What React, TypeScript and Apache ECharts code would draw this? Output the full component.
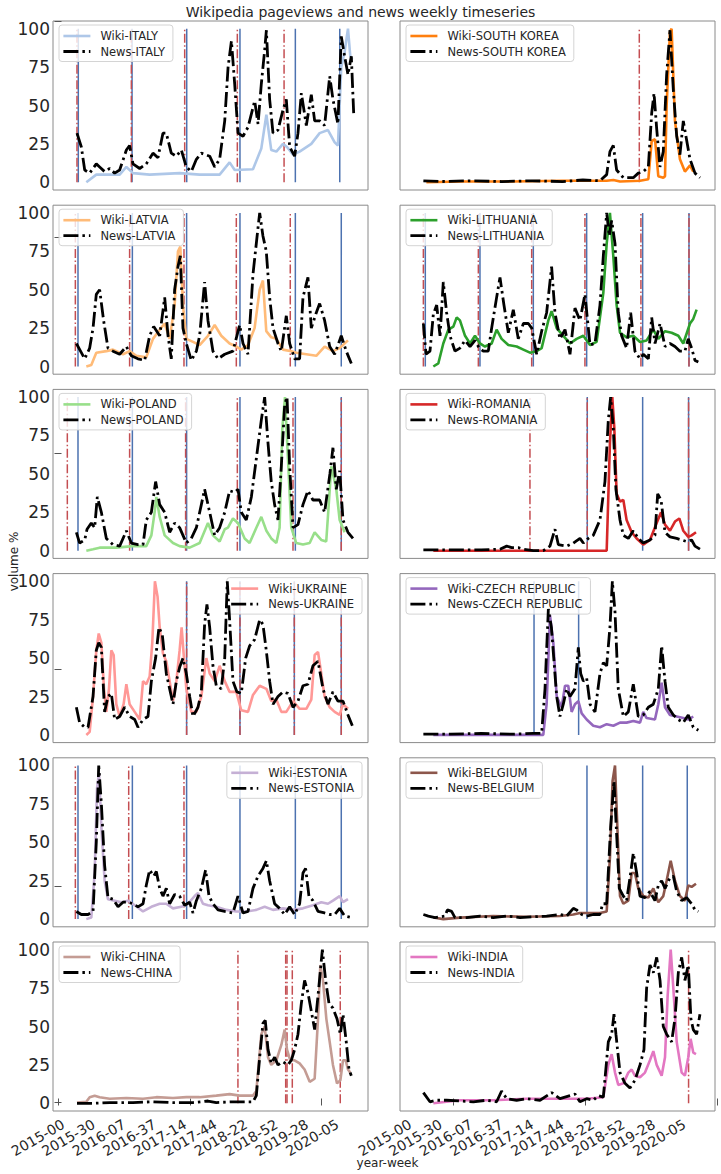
import React, { useEffect, useRef } from "react";
import * as echarts from "echarts";

// ---------- tick labels ----------
const weekTicks = [0, 30, 60, 90, 120, 150, 180, 210, 240, 270];
const weekLabels = ["2015-00", "2015-30", "2016-07", "2016-37", "2017-14", "2017-44", "2018-22", "2018-52", "2019-28", "2020-05"];
const volumeTicks = [0, 25, 50, 75, 100];

// ---------- panels ----------
const countries = ["ITALY", "SOUTH KOREA", "LATVIA", "LITHUANIA", "POLAND", "ROMANIA", "UKRAINE", "CZECH REPUBLIC", "ESTONIA", "BELGIUM", "CHINA", "INDIA"];
const wikiColors = ["#aec7e8", "#ff7f0e", "#ffbb78", "#2ca02c", "#98df8a", "#d62728", "#ff9896", "#9467bd", "#c5b0d5", "#8c564b", "#c49c94", "#e377c2"];
const legendRight = [false, false, false, false, false, false, true, false, true, false, false, false];

// ---------- series (week, volume %) ----------
const wikiItaly = [22.8,0, 32.6,5, 55.6,5, 62.2,10, 68.7,6, 85.1,5, 114.6,6, 134.3,5, 154,5, 163.8,13, 168.8,8, 186.8,8.5, 195,22, 200,44, 204.8,21, 209.8,20, 216.3,25, 220.3,23, 226.2,18, 232.7,20, 244.2,25, 252.4,32, 260.6,34, 267.2,26, 270.4,24, 273.7,75, 277,85, 280.3,100, 282.6,82, 284.5,80];
const newsItaly = [13.6,32, 17.9,23, 21.2,8, 26.1,6, 32.6,12, 35.9,10, 40.8,7, 45.8,9, 50.7,6, 55.6,8, 62.2,21, 65.4,24, 68.7,12, 75.3,9, 81.8,12, 88.4,19, 93.3,16, 98.2,32, 101.5,32, 106.4,19, 111.4,17, 116.3,21, 121.2,10, 126.1,7, 131.1,15, 136,19, 144.2,17, 149.1,10, 154,15, 159,40, 162.3,75, 165.6,92, 168.8,64, 172.1,32, 177,30, 182,36, 188.5,53, 191.8,38, 195,64, 198.3,86, 200,99, 203.2,54, 206.5,32, 211.4,34, 216.3,47, 219.6,54, 222.9,23, 227.8,17, 231.1,32, 234.4,58, 239.3,37, 244.2,57, 247.5,40, 252.4,40, 257.3,37, 262.3,69, 265.5,54, 270.4,38, 273.7,95, 277,82, 280.3,70, 283.6,82, 285.9,45];

const wikiSouthKorea = [16,0, 50,0.5, 100,0.5, 150,1, 193.4,1, 200,1.5, 206.5,0.5, 226.2,1, 234.4,2, 237.7,27, 241,28, 244.2,4, 249.1,3, 250.8,4, 252.4,50, 255.7,98, 257.3,100, 260.6,40, 265.5,15, 270.4,7, 275.4,11, 278.6,7];
const newsSouthKorea = [13,1, 30,0.5, 60,1, 90,0.5, 120,1, 150,0.5, 170,1.5, 186.8,1, 193.4,5, 196.6,20, 199.9,24, 203.2,8, 209.8,3, 219.6,3, 224.5,6, 229.4,7, 234.4,10, 237.7,45, 240,58, 242.6,35, 245.8,10, 249.1,20, 252.4,70, 255.7,99, 259,60, 262.3,30, 265.5,18, 268.8,40, 271.4,30, 275.4,15, 280.3,6, 285.2,3];

const wikiLatvia = [22.8,0, 27.7,1, 32.6,9, 42.5,10, 49,11, 58.9,8, 65.4,10, 72,7, 81.8,6, 88.4,18, 95,24, 99.9,28, 104.8,18, 109.7,40, 113,75, 115.3,78, 117.9,40, 121.2,18, 127.8,16, 134.3,14, 142.5,20, 149.1,27, 155.6,20, 163.8,15, 170.4,13, 175.3,11, 181.9,14, 188.4,25, 193.4,50, 196.6,56, 199.9,23, 204.8,19, 209.8,18, 216.3,11, 224.5,10, 229.4,9, 239.3,8, 249.1,7, 257.3,13, 265.5,10, 272.1,12, 280.3,17];
const newsLatvia = [13,15, 17.9,9, 21.2,5, 26.1,12, 29.4,25, 32.6,47, 35.9,50, 39.8,30, 44.1,12, 49,10, 55.6,8, 62.2,13, 67.1,7, 73.6,5, 80.2,4, 85.1,20, 89.1,26, 95,20, 99.9,45, 103.2,20, 106.4,5, 109.7,50, 113,65, 115.3,72, 117.9,25, 121.2,15, 126.1,4, 131.1,10, 134.3,20, 139.2,55, 142.5,30, 147.4,10, 152.4,5, 159,8, 167.1,10, 173.7,27, 177,15, 181.9,8, 186.8,60, 191.7,90, 193.4,100, 196.6,85, 199.9,75, 203.2,45, 206.5,25, 211.4,15, 214.7,10, 219.6,33, 222.9,15, 227.8,5, 232.7,5, 236,45, 240.9,58, 244.2,25, 249.1,35, 252.4,41, 257.3,30, 262.3,13, 267.2,8, 273.7,20, 278.6,10, 283.6,2];

const wikiLithuania = [22.8,0, 27.7,2, 32.6,15, 37.6,24, 42.5,26, 45.8,32, 49,30, 54,20, 58.9,15, 63.8,20, 68.7,15, 73.6,13, 80.2,15, 85.1,24, 90,18, 96.6,14, 104.8,13, 111.4,11, 117.9,9, 124.5,10, 129.4,12, 136,30, 139.2,36, 144.2,25, 150.7,20, 157.3,15, 163.8,18, 170.4,20, 177,14, 183.5,16, 190.1,48, 193.4,80, 196.6,100, 199.9,72, 203.2,40, 206.5,22, 213,19, 219.6,20, 226.2,16, 232.7,17, 239.3,24, 244.2,18, 250.8,23, 257.3,22, 263.9,20, 268.8,15, 275.4,28, 278.6,31, 281.9,37];
const newsLithuania = [13,28, 15.6,8, 19.5,10, 22.8,34, 26.1,40, 29.4,20, 32.6,55, 35.9,35, 39.2,20, 44.1,10, 49,12, 54,17, 58.9,13, 63.8,17, 68,12, 72,10, 76.9,10, 80.2,25, 85.1,45, 88.4,58, 92.3,40, 96.6,22, 101.5,37, 106.4,18, 111.4,28, 116.3,28, 119.6,25, 124.5,8, 129.4,23, 134.3,35, 139.2,65, 142.5,35, 147.4,18, 152.4,24, 157.3,8, 162.2,38, 167.1,30, 172,47, 177,14, 181.9,15, 186.8,40, 190.1,72, 193.4,100, 196,85, 198.3,95, 201.6,80, 204.8,35, 208.1,20, 213,12, 217,35, 221.2,10, 226.2,5, 229.4,8, 234.4,5, 237.7,32, 241,15, 245.9,28, 250.8,13, 255.7,15, 260.6,13, 265.5,10, 270.4,10, 273.7,18, 277,12, 280.3,4, 283.6,3];

const wikiPoland = [22.8,0, 29.4,1, 35.9,2, 52.3,2, 68.7,3, 81.8,3, 86.8,10, 90,25, 91.7,35, 95,22, 99.9,10, 108.1,5, 114.6,3, 124.5,2, 134.3,5, 142.5,18, 147.4,10, 154,6, 159,14, 162.2,15, 167.1,21, 172,18, 178.6,8, 183.5,5, 190.1,15, 195,22, 200,13, 204.8,8, 209.8,5, 213,15, 215.7,80, 218.3,100, 221.6,55, 224.5,15, 229.4,5, 236,4, 242.6,5, 247.5,12, 254,7, 258.9,6, 263.9,55, 268.8,40, 272.1,20, 277,12];
const newsPoland = [13,12, 16.2,5, 21.2,7, 23.5,14, 27.7,18, 31,15, 33.6,35, 37.6,25, 42.5,8, 49,4, 55.6,3, 62.2,13, 67.1,5, 73.6,4, 78.6,4, 81.8,20, 86.8,25, 91,45, 95,30, 99.9,25, 104.8,12, 109.7,18, 114.6,15, 121.2,5, 126.1,8, 131.1,15, 136,30, 139.2,40, 144.2,25, 149.1,10, 154,15, 159,25, 163.8,39, 168.8,38, 172.1,40, 175.3,25, 180.2,20, 185.2,35, 190.1,60, 195,85, 198.3,100, 201.6,70, 204.8,45, 208.1,30, 211.4,20, 214.7,55, 218,95, 220.3,100, 222.9,55, 226.2,15, 231.1,17, 236,30, 240.9,39, 245.8,33, 252.4,33, 257.3,25, 262.5,50, 265.5,67, 268.8,40, 272.1,52, 275.4,20, 280.3,12, 285.2,8];

const wikiRomania = [22.8,0, 60,0, 100,0, 140,0, 170,0, 193.4,0, 196.6,70, 198.9,100, 200.9,80, 203.2,37, 206.5,32, 209.8,33, 213,20, 218,12, 222.9,8, 229.4,4, 236,7, 242.6,18, 246.9,25, 250.8,17, 255.7,13, 260.6,19, 264.9,21, 268.8,13, 273.7,9, 277,10, 281.3,12];
const newsRomania = [13,0.5, 40,0.5, 70,0.5, 88.4,1, 95,3, 99.9,2, 106.4,2, 111.4,1, 121.2,0, 131,0, 137.6,3, 142.5,14, 145.8,4, 154,3, 160.6,5, 167.1,8, 170.4,5, 175.3,8, 180.2,10, 186.8,20, 191.7,45, 195,85, 197.3,100, 199.9,80, 202.5,40, 206.5,20, 209.8,10, 214.7,8, 219.6,13, 224.5,8, 229.4,5, 236,7, 240.9,10, 243.6,37, 246.9,33, 250.8,12, 255.7,9, 262.3,8, 267.2,7, 272.1,6, 277,7, 280.3,3, 285.2,1];

const wikiUkraine = [22.8,0, 26.1,2, 29.4,25, 32.6,55, 35,66, 37.6,60, 40.2,30, 42.5,15, 45.1,30, 47.4,55, 49.7,52, 52.3,20, 55.6,12, 59.5,20, 62.2,33, 65.4,20, 70.4,15, 75.3,10, 78.6,35, 81.8,33, 85.1,38, 87.7,60, 90.3,100, 92.9,90, 95,70, 98.2,53, 101.5,48, 104.8,35, 108.1,22, 111.4,35, 114.6,55, 116.6,70, 118.9,50, 121.2,30, 126.1,15, 131.1,15, 136,25, 140.9,50, 144.2,40, 149.1,35, 154,45, 159,35, 163.8,28, 170.4,28, 175.3,16, 181.9,15, 186.8,26, 193.4,32, 200,30, 204.8,22, 209.8,23, 214.7,15, 219.6,15, 226.2,22, 232.7,17, 239.3,17, 244.2,23, 247.5,52, 250.8,54, 254,40, 257.3,25, 262.3,18, 267.2,15, 272.1,13, 275.4,20, 280.3,17];
const newsUkraine = [13,18, 16.2,8, 21.2,5, 24.5,5, 29.4,25, 32.6,55, 35,60, 37.6,57, 40.8,15, 44.1,25, 47.4,27, 50.7,10, 55.6,12, 60.5,18, 65.4,12, 70.4,10, 73.6,5, 78.6,10, 83.5,12, 86.8,35, 91,50, 94.3,70, 97.6,65, 101.5,40, 104.8,30, 108.1,20, 111.4,35, 114.6,44, 117.9,50, 121.2,40, 124.5,25, 127.8,12, 132.7,18, 136,28, 139.2,72, 141.5,85, 144.2,70, 147.4,45, 150.7,32, 155.6,30, 159,50, 161.5,100, 163.8,75, 167.1,35, 171,28, 175.3,27, 179.6,50, 183.5,58, 188.4,62, 193.4,75, 196.6,72, 199.9,55, 203.2,35, 206.5,20, 211.4,25, 216.3,28, 221.2,27, 226.2,18, 231.1,22, 236,32, 240.9,33, 245.8,45, 250.8,48, 255.7,30, 260.6,20, 265.5,28, 270.4,22, 275.4,22, 280.3,13, 284.6,6];

const wikiCzech = [22.8,0, 60,0, 100,0, 131,0, 134.3,20, 137.6,78, 140.9,60, 144.2,25, 149.1,18, 152.4,32, 155.6,32, 158.9,15, 162.2,20, 165.5,22, 168.8,14, 173.7,10, 180.2,6, 186.8,5, 193.4,7, 200,6, 206.5,8, 213,8, 219.6,9, 226.2,8, 229.4,15, 232.7,11, 240.9,10, 244.2,20, 247.5,34, 250.8,18, 255.7,13, 262.3,12, 268.8,11, 273.7,10, 278.6,12];
const newsCzech = [13,0.5, 40,0.5, 70,1, 100,0.5, 121.2,1, 129.4,1, 132.7,30, 136,82, 139,70, 144.2,25, 147.4,12, 150.7,20, 154,30, 157.3,25, 162.2,30, 165.5,57, 167.8,40, 170.4,35, 173.7,37, 177,20, 181.9,15, 186.8,40, 190.1,47, 193.4,45, 196.6,70, 199,100, 201.6,80, 204.8,30, 209.8,12, 214.7,15, 219.6,33, 224.5,12, 229.4,13, 234.4,18, 239.3,20, 244.2,30, 247.5,58, 250.8,35, 254,18, 259,13, 263.9,10, 268.8,8, 273.7,13, 278.6,5, 283.6,3];

const wikiEstonia = [22.8,0, 27.7,1, 31,30, 33.3,85, 35.3,95, 37.6,60, 40.8,25, 44.1,13, 50.7,12, 57.2,11, 63.8,12, 70.4,9, 78.6,5, 86.8,8, 95,10, 101.5,10, 108.1,7, 116.3,8, 122.8,10, 129.4,15, 132.7,17, 137.6,10, 142.5,9, 150.7,8, 160.6,6, 170.4,5, 180.2,5, 190.1,6, 198.3,8, 206.5,6, 216.3,7, 226.2,6, 236,7, 245.8,9, 254,11, 260.6,10, 265.5,12, 272.1,15, 275.4,11, 280.3,13];
const newsEstonia = [13,5, 17.9,3, 24.5,3, 29.4,5, 32.6,50, 35,100, 37.6,75, 40.8,35, 44.1,14, 49,13, 54,8, 58.9,11, 63.8,11, 68.7,10, 73.6,8, 78.6,10, 81.8,22, 85.1,32, 89.1,28, 91.7,31, 95,20, 98.2,15, 101.5,20, 104.8,10, 109.7,16, 114.6,15, 119.6,9, 124.5,11, 127.8,4, 131.1,12, 136,20, 140.2,32, 143.5,15, 147.4,10, 152.4,6, 159,5, 167.1,4, 172,15, 177,4, 181.9,5, 186.8,20, 191.7,28, 196.6,33, 200,38, 203.2,25, 208.1,10, 213,7, 218,3, 222.9,8, 227.8,3, 232.7,10, 236,30, 238.6,33, 241.9,15, 245.8,12, 250.8,5, 257.3,4, 262.3,3, 267.2,3, 272.1,7, 277,2, 283.6,1];

const wikiBelgium = [22.8,1, 32.6,0, 49,1, 81.8,2, 114.6,1.5, 147.4,2, 160.6,3, 167.1,4, 173.7,4, 186.8,4, 193.4,5, 196.6,40, 199.2,90, 201.6,100, 203.9,60, 206.5,15, 209.8,10, 214.7,12, 218,30, 221.2,30, 224.5,20, 229.4,15, 234.4,14, 239.3,20, 244.2,11, 249.1,15, 252.4,25, 256.4,38, 260.6,25, 265.5,15, 270.4,12, 273.7,22, 277,21, 281.3,23];
const newsBelgium = [13,3, 17.9,2, 24.5,1, 34.3,2, 36.6,6, 40.8,5, 44.1,1, 55.6,1, 68.7,2, 81.8,1, 95,2, 108.1,1, 121.2,1.5, 134.3,2, 147.4,3, 154,2, 160.6,7, 163.8,6, 168.8,3, 173.7,2, 180.2,3, 186.8,3, 189.4,10, 193.4,10, 197.3,60, 200.6,90, 203.2,55, 205.8,20, 209.8,15, 213,12, 217,30, 219.6,43, 222.9,30, 226.2,15, 231.1,14, 236,18, 240.9,12, 244.2,22, 247.5,25, 250.8,20, 255.7,27, 259,28, 262.3,18, 267.2,12, 272.1,14, 277,10, 280.3,6, 283.6,5];

const wikiChina = [13.6,0.5, 22.8,1, 26.1,4, 31,5, 35.9,4, 45.8,3, 62.2,3.5, 78.6,3, 91.7,4, 108.1,3.5, 121.2,4, 134.3,4, 150.7,5, 163.8,6, 173.7,5, 186.8,5, 190.1,8, 195,45, 198.3,50, 201.6,30, 204.8,25, 209.8,28, 214.7,38, 218,48, 220.3,35, 223.5,28, 227.8,28, 232.7,26, 237.6,22, 242.6,14, 247.5,16, 250.8,55, 253.1,90, 255.7,80, 259,55, 262.3,40, 265.5,25, 269.5,13, 272.8,15, 275.4,28, 278,28, 280.3,22, 282.6,20];
const newsChina = [13.6,0, 29.4,0, 45.8,0.5, 68.7,0.5, 88.4,1, 108.1,0.5, 127.8,0.5, 142.5,1.5, 150.7,0.5, 167.1,1, 186.8,1, 190.1,5, 193.4,30, 196.6,52, 198.9,54, 201.6,35, 204.8,26, 208.1,30, 211.4,25, 216.3,27, 221.2,25, 224.5,28, 227.8,35, 231.1,45, 234.4,65, 237.6,80, 240.9,72, 244.2,60, 247.5,48, 250.8,70, 255.1,100, 258.3,80, 261.6,65, 265.5,62, 269.5,55, 272.8,45, 275.4,58, 278.6,40, 281.3,22, 283.6,18];

const wikiIndia = [22.8,0, 35.9,1, 49,2, 81.8,2, 114.6,3, 147.4,3, 173.7,3, 190.1,4, 195,25, 198.3,32, 201.6,20, 204.8,12, 209.8,13, 214.7,20, 218,22, 221.2,18, 226.2,17, 231.1,20, 236,28, 239.3,34, 242.6,25, 247.5,18, 250.8,30, 253.4,70, 256.4,100, 259,75, 262.3,40, 267.2,20, 270.4,18, 273.7,30, 276,42, 278.6,33, 281.3,32];
const newsIndia = [13,7, 19.5,1, 26.1,2, 35.9,2, 49,1.5, 62.2,1, 75.3,2, 85.1,1, 90,8, 95,3, 104.8,2, 114.6,3, 127.8,2, 139.2,7, 147.4,3, 157.3,5, 162.2,6, 167.1,1, 173.7,3, 180.2,2, 185.2,5, 190.1,4, 195,40, 198.3,45, 200.6,58, 202.5,45, 206.5,20, 211.4,13, 216.3,10, 221.2,15, 226.2,25, 230.1,35, 232.7,75, 236,90, 239.3,85, 242.6,95, 245.9,80, 249.1,50, 252.4,45, 257.3,40, 260.6,55, 263.9,85, 267.2,95, 270.4,80, 273.7,90, 276.3,55, 278.6,48, 281.9,45, 285.2,58];

// ---------- event weeks (vertical lines) ----------
const redItaly = [13.6, 67.1, 119.6, 171.4, 217.4];
const blueItaly = [14.9, 67.8, 121.6, 174, 228.5, 272.2];
const redSouthKorea = [225.5];
const blueSouthKorea: number[] = [];
const redLatvia = [12, 65.4, 118.9, 170.4, 223.5];
const blueLatvia = [14.6, 68.1, 121.5, 174, 228.5, 273.7];
const redLithuania = [13, 67.1, 119.6, 172, 227.1, 274.4];
const blueLithuania = [14.9, 68.7, 121.2, 173.7, 228.8, 274.4];
const redPoland = [4.1, 65.4, 120.5, 171.4, 226.2, 273.7];
const bluePoland = [14.6, 68.1, 121.5, 174, 228.5, 273.7];
const redRomania = [117.9, 174.3, 274];
const blueRomania = [174.3, 228.8, 274];
const redUkraine = [121.5, 174, 227.5, 273.7];
const blueUkraine = [121.5, 174, 227.5, 273.7];
const redCzech: number[] = [];
const blueCzech = [121.9, 165.8];
const redEstonia = [12, 64.5, 118.9];
const blueEstonia = [14.6, 68.1, 121.5, 174, 228.5, 273.7];
const redBelgium: number[] = [];
const blueBelgium = [174, 228.8, 272.7];
const redChina = [172, 219, 220.3, 225.5, 272.7];
const blueChina: number[] = [];
const redIndia = [274];
const blueIndia: number[] = [];

const wikiSeries = [wikiItaly, wikiSouthKorea, wikiLatvia, wikiLithuania, wikiPoland, wikiRomania, wikiUkraine, wikiCzech, wikiEstonia, wikiBelgium, wikiChina, wikiIndia];
const newsSeries = [newsItaly, newsSouthKorea, newsLatvia, newsLithuania, newsPoland, newsRomania, newsUkraine, newsCzech, newsEstonia, newsBelgium, newsChina, newsIndia];
const redLines = [redItaly, redSouthKorea, redLatvia, redLithuania, redPoland, redRomania, redUkraine, redCzech, redEstonia, redBelgium, redChina, redIndia];
const blueLines = [blueItaly, blueSouthKorea, blueLatvia, blueLithuania, bluePoland, blueRomania, blueUkraine, blueCzech, blueEstonia, blueBelgium, blueChina, blueIndia];

// ---------- styling ----------
const FONT = "DejaVu Sans";
const TEXT = "#262626";
const BLUE = "#4c72b0";
const RED = "#c44e52";
const NEWS_DASH = [15, 4, 2.5, 4];
const W = 721;
const H = 1174;
const COL_LEFT = [53, 400];
const GRID_W = 315;
const GRID_H = 169;
const ROW0 = 21;
const ROW_STEP = 184.2;

function pairs(flat: number[]): number[][] {
  const out: number[][] = [];
  for (let i = 0; i + 1 < flat.length; i += 2) out.push([flat[i], flat[i + 1]]);
  return out;
}

function buildOption() {
  const grid: any[] = [];
  const xAxis: any[] = [];
  const yAxis: any[] = [];
  const series: any[] = [];
  const legend: any[] = [];

  countries.forEach((name, i) => {
    const row = Math.floor(i / 2);
    const col = i % 2;
    const left = COL_LEFT[col];
    const top = ROW0 + row * ROW_STEP;
    grid.push({ left, top, width: GRID_W, height: GRID_H, show: true, borderColor: "#8a8a8a", borderWidth: 1, backgroundColor: "transparent" });
    const bottomRow = row === 5;
    xAxis.push({
      type: "value", gridIndex: i, min: -10, max: 300,
      axisLine: { show: false }, axisTick: { show: false }, splitLine: { show: false },
      axisLabel: {
        show: bottomRow, customValues: weekTicks, rotate: 30, margin: 12,
        fontSize: 14, color: TEXT, fontFamily: FONT,
        formatter: (v: number) => { const k = weekTicks.indexOf(Math.round(v)); return k >= 0 ? weekLabels[k] : ""; },
      },
    });
    yAxis.push({
      type: "value", gridIndex: i, min: -5, max: 105,
      axisLine: { show: false }, axisTick: { show: false }, splitLine: { show: false },
      axisLabel: { show: col === 0, customValues: volumeTicks, margin: 3, fontSize: 17, color: TEXT, fontFamily: FONT },
    });

    blueLines[i].forEach((x, k) => {
      series.push({
        type: "line", name: `_blue_${i}_${k}`, xAxisIndex: i, yAxisIndex: i, data: [[x, 0], [x, 100]],
        symbol: "none", silent: true, z: 1, lineStyle: { color: BLUE, width: 1.5 },
      });
    });
    redLines[i].forEach((x, k) => {
      series.push({
        type: "line", name: `_red_${i}_${k}`, xAxisIndex: i, yAxisIndex: i, data: [[x, 0], [x, 100]],
        symbol: "none", silent: true, z: 1, lineStyle: { color: RED, width: 1.5, type: [9, 2.5, 1.5, 2.5] },
      });
    });

    const wikiName = `Wiki-${name}`;
    const newsName = `News-${name}`;
    series.push({
      type: "line", name: wikiName, xAxisIndex: i, yAxisIndex: i, data: pairs(wikiSeries[i]),
      symbol: "none", showSymbol: false, z: 3, color: wikiColors[i],
      lineStyle: { color: wikiColors[i], width: 2.6 },
    });
    series.push({
      type: "line", name: newsName, xAxisIndex: i, yAxisIndex: i, data: pairs(newsSeries[i]),
      symbol: "none", showSymbol: false, z: 4, color: "#000000",
      lineStyle: { color: "#000000", width: 2.8, type: NEWS_DASH, cap: "butt" },
    });

    const pos: any = legendRight[i] ? { right: W - (left + GRID_W) + 6 } : { left: left + 6 };
    legend.push({
      ...pos,
      top: top + 4,
      orient: "vertical",
      selectedMode: false,
      data: [
        { name: wikiName, itemStyle: { opacity: 0 }, lineStyle: { color: wikiColors[i], width: 2.6 } },
        { name: newsName, itemStyle: { opacity: 0 }, lineStyle: { color: "#000000", width: 2.8, type: NEWS_DASH } },
      ],
      itemWidth: 27, itemHeight: 14, itemGap: 3.5,
      padding: [5, 8, 4, 3],
      backgroundColor: "rgba(255,255,255,0.8)", borderColor: "#d4d4d4", borderWidth: 1, borderRadius: 3,
      textStyle: { fontSize: 11.5, color: TEXT, fontFamily: FONT, padding: [0, 0, 0, 5] },
    });
  });

  // outer frame axes (shared labels and the outer tick marks)
  const outer = countries.length;
  grid.push({ left: 53, top: 21, width: 664, height: 1090, show: false });
  const outerTick = { show: true, length: 3.5, lineStyle: { color: "#555", width: 1 } };
  xAxis.push({
    type: "value", gridIndex: outer, min: 0, max: 1, interval: 0.2, position: "bottom",
    axisLine: { show: false }, axisTick: outerTick, axisLabel: { show: false }, splitLine: { show: false },
    name: "year-week", nameLocation: "middle", nameGap: 55,
    nameTextStyle: { fontSize: 12, color: TEXT, fontFamily: FONT },
  });
  xAxis.push({
    type: "value", gridIndex: outer, min: 0, max: 1, interval: 0.2, position: "top",
    axisLine: { show: false }, axisTick: outerTick, axisLabel: { show: false }, splitLine: { show: false },
  });
  yAxis.push({
    type: "value", gridIndex: outer, min: 0, max: 1, interval: 0.2, position: "left",
    axisLine: { show: false }, axisTick: outerTick, axisLabel: { show: false }, splitLine: { show: false },
    name: "volume %", nameLocation: "middle", nameGap: 38, nameRotate: 90,
    nameTextStyle: { fontSize: 12, color: TEXT, fontFamily: FONT },
  });
  yAxis.push({
    type: "value", gridIndex: outer, min: 0, max: 1, interval: 0.2, position: "right",
    axisLine: { show: false }, axisTick: outerTick, axisLabel: { show: false }, splitLine: { show: false },
  });

  return {
    animation: false,
    backgroundColor: "#ffffff",
    textStyle: { fontFamily: FONT },
    title: {
      text: "Wikipedia pageviews and news weekly timeseries",
      left: "center", top: 0,
      textStyle: { fontSize: 14, fontWeight: "normal", color: TEXT, fontFamily: FONT },
    },
    legend,
    grid,
    xAxis,
    yAxis,
    series,
  };
}

export default function App() {
  const ref = useRef<HTMLDivElement>(null);
  useEffect(() => {
    if (!ref.current) return;
    const chart = echarts.init(ref.current, null, { renderer: "svg" });
    chart.setOption(buildOption() as any);
    return () => chart.dispose();
  }, []);
  return <div ref={ref} style={{ position: "absolute", left: 0, top: 0, width: W, height: H, background: "#fff" }} />;
}
